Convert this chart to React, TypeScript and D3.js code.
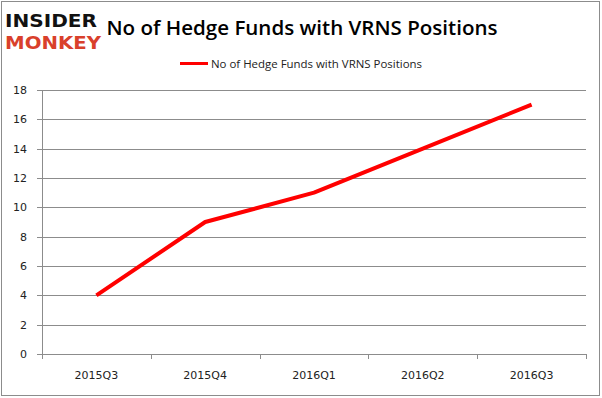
import React from "react";
import * as d3 from "d3";

const categories = ["2015Q3", "2015Q4", "2016Q1", "2016Q2", "2016Q3"];
const values = [4, 9, 11, 14, 17];
const yTicks = [0, 2, 4, 6, 8, 10, 12, 14, 16, 18];
const seriesName = "No of Hedge Funds with VRNS Positions";
const title = "No of Hedge Funds with VRNS Positions";

export default function App() {
  const W = 602, H = 398;
  const left = 42, right = 586, top = 90, bottom = 354;
  const x = d3.scaleBand<string>().domain(categories).range([left, right]);
  const y = d3.scaleLinear().domain([0, 18]).range([bottom, top]);
  const line = d3
    .line<number>()
    .x((_, i) => (x(categories[i]) as number) + x.bandwidth() / 2)
    .y((d) => y(d));
  const tickFont = "'DejaVu Sans', Verdana, sans-serif";
  return (
    <svg width={W} height={H} style={{ position: "absolute", left: 0, top: 0 }}>
      <rect x={0} y={0} width={W} height={H} fill="#fff" />
      <rect x={1.5} y={1.5} width={598} height={394} fill="none" stroke="#8c8c8c" strokeWidth={1} />
      {/* logo */}
      <text x={5} y={27} fontFamily="'DejaVu Sans', sans-serif" fontWeight="bold" fontSize={18.5} textLength={92} lengthAdjust="spacingAndGlyphs" fill="#111">INSIDER</text>
      <text x={5} y={49} fontFamily="'DejaVu Sans', sans-serif" fontWeight="bold" fontSize={18.5} textLength={96} lengthAdjust="spacingAndGlyphs" fill="#d9402b">MONKEY</text>
      {/* title */}
      <text x={302} y={35} textAnchor="middle" fontFamily="'Open Sans', 'Liberation Sans', sans-serif" fontWeight="600" fontSize={20} fill="#000" textLength={391} lengthAdjust="spacingAndGlyphs">{title}</text>
      {/* legend */}
      <line x1={180} x2={208} y1={63.5} y2={63.5} stroke="#ff0000" strokeWidth={3} />
      <text x={211} y={67.5} fontFamily="'Open Sans', 'Liberation Sans', sans-serif" fontSize={11} fill="#222" textLength={211} lengthAdjust="spacingAndGlyphs">{seriesName}</text>
      {/* grid */}
      {yTicks.map((t) => (
        <g key={t}>
          <line x1={left - 5} x2={right} y1={Math.round(y(t)) + 0.5} y2={Math.round(y(t)) + 0.5} stroke="#8c8c8c" strokeWidth={1} />
          <text x={27} y={Math.round(y(t)) + 4} textAnchor="end" fontFamily={tickFont} fontSize={11} fill="#222">{t}</text>
        </g>
      ))}
      <line x1={left + 0.5} x2={left + 0.5} y1={top} y2={bottom + 5} stroke="#8c8c8c" />
      {categories.map((c) => {
        const xe = (x(c) as number) + x.bandwidth();
        return (
          <g key={c}>
            <line x1={Math.round(xe) + 0.5} x2={Math.round(xe) + 0.5} y1={bottom} y2={bottom + 5} stroke="#8c8c8c" />
            <text x={(x(c) as number) + x.bandwidth() / 2} y={379} textAnchor="middle" fontFamily={tickFont} fontSize={11} fill="#222">{c}</text>
          </g>
        );
      })}
      <path d={line(values) || ""} fill="none" stroke="#ff0000" strokeWidth={4} strokeLinejoin="round" />
    </svg>
  );
}
